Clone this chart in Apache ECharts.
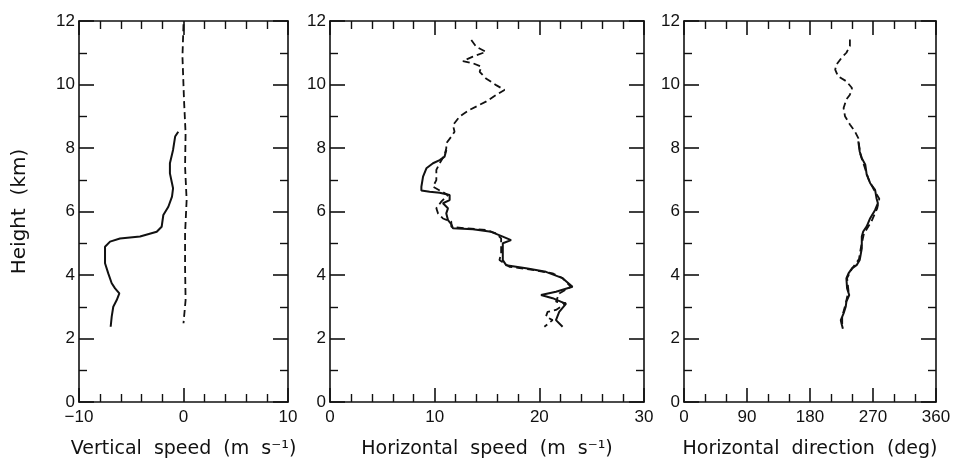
<!DOCTYPE html>
<html>
<head>
<meta charset="utf-8">
<script src="https://cdn.jsdelivr.net/npm/echarts@6/dist/echarts.min.js"></script>
<style>
  html, body { margin: 0; padding: 0; background: #fff; }
  #main { width: 968px; height: 461px; }
</style>
</head>
<body>
<div id="main"></div>
<script>
// panel 1 - vertical speed (m/s)
var vsSolidH = [8.51, 8.36, 7.94, 7.52, 7.2, 6.89, 6.73, 6.47, 6.15, 5.89, 5.52, 5.36, 5.21, 5.15, 5.05, 4.89, 4.37, 4.05, 3.74, 3.58, 3.42, 3.21, 3.0, 2.69, 2.37];
var vsSolidV = [-0.5, -0.8, -1.0, -1.3, -1.3, -1.1, -1.0, -1.1, -1.45, -1.93, -2.09, -2.56, -4.16, -6.08, -7.03, -7.51, -7.51, -7.2, -6.87, -6.55, -6.14, -6.39, -6.72, -6.87, -6.97];
var vsDashH = [11.9, 10.88, 9.5, 8.47, 7.41, 6.36, 5.31, 4.26, 3.21, 2.48];
var vsDashV = [0.0, -0.1, 0.05, 0.2, 0.15, 0.3, 0.15, 0.15, 0.2, 0.0];

// panel 2 - horizontal speed (m/s)
var hsSolidH = [7.94, 7.73, 7.62, 7.52, 7.36, 7.1, 6.78, 6.66, 6.62, 6.59, 6.52, 6.36, 6.26, 6.1, 5.94, 5.73, 5.6, 5.47, 5.44, 5.36, 5.21, 5.1, 5.0, 4.68, 4.47, 4.31, 4.21, 4.1, 3.9, 3.63, 3.47, 3.37, 3.27, 3.09, 2.84, 2.58, 2.37];
var hsSolidV = [11.11, 10.95, 10.48, 9.84, 9.21, 8.89, 8.73, 8.73, 9.52, 10.48, 11.43, 11.43, 10.79, 11.27, 11.11, 11.27, 11.59, 11.75, 13.65, 15.4, 16.51, 17.3, 16.51, 16.51, 16.51, 16.83, 18.73, 20.63, 22.22, 23.17, 21.59, 20.16, 21.27, 22.54, 21.9, 21.59, 22.22];
var hsDashH = [11.4, 11.19, 11.03, 10.88, 10.74, 10.67, 10.56, 10.4, 10.19, 9.98, 9.83, 9.67, 9.46, 9.2, 8.99, 8.72, 8.51, 8.36, 8.15, 7.99, 7.78, 7.52, 7.31, 6.99, 6.78, 6.52, 6.31, 6.1, 5.94, 5.78, 5.68, 5.52, 5.47, 5.42, 5.31, 5.15, 4.68, 4.47, 4.26, 4.16, 4.05, 3.9, 3.63, 3.42, 3.16, 3.11, 2.9, 2.84, 2.69, 2.58, 2.37];
var hsDashV = [13.5, 13.97, 14.9, 13.65, 12.7, 13.65, 14.45, 14.3, 14.9, 15.87, 16.67, 15.87, 14.9, 13.33, 12.38, 11.75, 11.9, 11.59, 11.11, 11.11, 10.95, 10.48, 10.16, 10.16, 9.84, 11.27, 10.63, 10.16, 10.32, 10.79, 11.59, 11.59, 13.02, 14.92, 15.87, 16.35, 16.35, 16.19, 17.14, 19.37, 21.27, 22.22, 23.0, 21.9, 21.59, 22.54, 21.59, 20.79, 20.63, 21.27, 20.48];

// panel 3 - horizontal direction (deg)
var hdSolidH = [8.21, 7.89, 7.68, 7.47, 7.16, 6.89, 6.68, 6.42, 6.26, 6.05, 5.79, 5.53, 5.37, 5.21, 4.84, 4.47, 4.32, 4.21, 4.05, 3.89, 3.58, 3.37, 3.16, 3.0, 2.79, 2.58, 2.47, 2.31];
var hdSolidV = [249, 251, 254, 259, 261, 266, 273, 275, 277, 273, 266, 261, 256, 254, 254, 251, 247, 240, 235, 232, 233, 236, 232, 231, 228, 224, 225, 227];
var hdDashH = [11.42, 11.21, 11.0, 10.84, 10.63, 10.47, 10.26, 10.1, 9.89, 9.68, 9.53, 9.26, 9.0, 8.74, 8.53, 8.31, 8.11, 7.8, 7.4, 7.0, 6.7, 6.4, 6.1, 5.7, 5.3, 4.9, 4.5, 4.2, 3.9, 3.5, 3.1, 2.7, 2.4];
var hdDashV = [237, 237, 232, 225, 218, 216, 220, 232, 240, 237, 232, 228, 230, 237, 244, 249, 250, 252, 258, 264, 271, 279, 276, 268, 257, 253, 250, 240, 233, 235, 231, 226, 226];

var yTicks = [0, 2, 4, 6, 8, 10, 12];

function pairs(v, h) {
  var out = [];
  for (var i = 0; i < h.length; i++) out.push([v[i], h[i]]);
  return out;
}

var FONT = 'Liberation Sans';
var NAME_FONT = 'DejaVu Sans';
var grids = [
  { left: 79, width: 209, top: 21, bottom: 59, outerBoundsMode: 'none' },
  { left: 330, width: 314, top: 21, bottom: 59, outerBoundsMode: 'none' },
  { left: 684, width: 252, top: 21, bottom: 59, outerBoundsMode: 'none' }
];
var xDefs = [
  { min: -10, max: 10, interval: 10, split: 5, name: 'Vertical  speed  (m  s\u207B\u00B9)' },
  { min: 0, max: 30, interval: 10, split: 5, name: 'Horizontal  speed  (m  s\u207B\u00B9)' },
  { min: 0, max: 360, interval: 90, split: 3, name: 'Horizontal  direction  (deg)' }
];

var lineStyleAxis = { color: '#111', width: 1.6 };
var xAxes = [], yAxes = [];
xDefs.forEach(function (d, i) {
  [0, 1].forEach(function (top) {
    xAxes.push({
      type: 'value', gridIndex: i, position: top ? 'top' : 'bottom',
      min: d.min, max: d.max, interval: d.interval,
      name: top ? '' : d.name, nameLocation: 'middle', nameGap: 38,
      nameTextStyle: { fontFamily: NAME_FONT, fontSize: 19, color: '#111' },
      axisLine: { show: true, onZero: false, lineStyle: lineStyleAxis },
      axisTick: { show: true, inside: true, length: 14, lineStyle: { color: '#111', width: 1.6 } },
      minorTick: { show: true, splitNumber: d.split, length: 8, lineStyle: { color: '#111', width: 1.4 } },
      axisLabel: {
        show: !top, margin: 7, fontFamily: FONT, fontSize: 17, color: '#111',
        formatter: function (v) { return String(v).replace('-', '\u2212'); }
      },
      splitLine: { show: false }
    });
  });
  [0, 1].forEach(function (right) {
    yAxes.push({
      type: 'value', gridIndex: i, position: right ? 'right' : 'left',
      min: yTicks[0], max: yTicks[yTicks.length - 1], interval: 2,
      name: (!right && i === 0) ? 'Height  (km)' : '',
      nameLocation: 'middle', nameGap: 49,
      nameTextStyle: { fontFamily: NAME_FONT, fontSize: 20, color: '#111' },
      axisLine: { show: true, onZero: false, lineStyle: lineStyleAxis },
      axisTick: { show: true, inside: true, length: 15, lineStyle: { color: '#111', width: 1.6 } },
      minorTick: { show: true, splitNumber: 2, length: 8, lineStyle: { color: '#111', width: 1.4 } },
      axisLabel: { show: !right, margin: 4, fontFamily: FONT, fontSize: 17, color: '#111' },
      splitLine: { show: false }
    });
  });
});

function line(idx, data, dashed) {
  return {
    type: 'line', xAxisIndex: idx * 2, yAxisIndex: idx * 2,
    data: data, showSymbol: false, symbol: 'none', silent: true,
    lineStyle: { color: '#111', width: dashed ? 1.8 : 2, type: dashed ? [7, 4] : 'solid' }
  };
}

var chart = echarts.init(document.getElementById('main'), null, { renderer: 'canvas' });
chart.setOption({
  animation: false,
  backgroundColor: '#fff',
  grid: grids,
  xAxis: xAxes,
  yAxis: yAxes,
  series: [
    line(0, pairs(vsDashV, vsDashH), true),
    line(0, pairs(vsSolidV, vsSolidH), false),
    line(1, pairs(hsDashV, hsDashH), true),
    line(1, pairs(hsSolidV, hsSolidH), false),
    line(2, pairs(hdDashV, hdDashH), true),
    line(2, pairs(hdSolidV, hdSolidH), false)
  ]
});
</script>
</body>
</html>
